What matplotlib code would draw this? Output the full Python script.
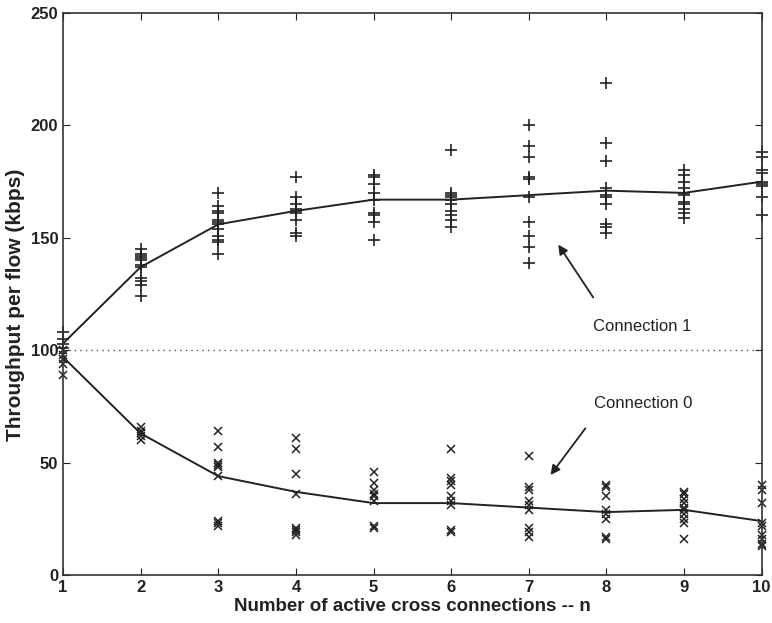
import numpy as np
import matplotlib.pyplot as plt

plt.rcParams['font.family'] = ['Liberation Sans', 'DejaVu Sans']

n = [1, 2, 3, 4, 5, 6, 7, 8, 9, 10]

# mean throughput per flow (kbps)
conn1_mean = [103, 137, 156, 162, 167, 167, 169, 171, 170, 175]
conn0_mean = [97, 63, 44, 37, 32, 32, 30, 28, 29, 24]

# individual runs, connection 1 ('+')
conn1_runs = {
    1: [108, 105, 103, 101],
    2: [145, 143, 142, 141, 140, 138, 137, 132, 131, 129, 124],
    3: [170, 164, 162, 161, 158, 157, 156, 154, 151, 149, 148, 143],
    4: [177, 168, 165, 163, 162, 161, 158, 152, 151],
    5: [178, 177, 174, 170, 167, 161, 160, 157, 149],
    6: [189, 170, 169, 168, 167, 165, 162, 160, 158, 155],
    7: [200, 191, 186, 177, 176, 168, 157, 151, 146, 139],
    8: [219, 192, 184, 172, 169, 168, 165, 156, 155, 152],
    9: [180, 178, 175, 172, 170, 169, 166, 165, 163, 161, 159],
    10: [188, 186, 180, 179, 175, 174, 173, 168, 160],
}

# individual runs, connection 0 ('x')
conn0_runs = {
    1: [100, 98, 96, 94, 89],
    2: [66, 64, 63, 62, 60],
    3: [64, 57, 50, 49, 48, 44, 24, 23, 22],
    4: [61, 56, 45, 36, 21, 20, 19, 18],
    5: [46, 41, 38, 36, 35, 33, 22, 21],
    6: [56, 43, 42, 40, 35, 33, 31, 20, 19],
    7: [53, 39, 38, 33, 31, 29, 21, 19, 17],
    8: [40, 39, 35, 29, 27, 25, 17, 16],
    9: [37, 36, 34, 32, 30, 29, 27, 25, 23, 16],
    10: [40, 38, 32, 23, 22, 18, 16, 14, 13],
}

ink = "#222222"

fig = plt.figure(figsize=(7.72, 6.23), dpi=100)
ax = fig.add_axes([0.0816, 0.077, 0.905, 0.902])

for k, vals in conn1_runs.items():
    ax.plot([k] * len(vals), vals, linestyle="none", marker="+",
            markersize=9, markeredgewidth=1.2, color=ink, clip_on=False)
for k, vals in conn0_runs.items():
    ax.plot([k] * len(vals), vals, linestyle="none", marker="x",
            markersize=5.5, markeredgewidth=1.1, color=ink, clip_on=False)

ax.plot(n, conn1_mean, color=ink, linewidth=1.4)
ax.plot(n, conn0_mean, color=ink, linewidth=1.4)
ax.axhline(100, color="#555555", linestyle=(0, (1, 3)), linewidth=1.0)

# labels and arrows
ax.text(8.46, 110.5, "Connection 1", ha="center", va="center",
        fontsize=12, color=ink)
ax.text(8.48, 76.5, "Connection 0", ha="center", va="center",
        fontsize=12, color=ink)
arrow = dict(arrowstyle="-|>", color=ink, lw=1.3, shrinkA=0, shrinkB=0,
             mutation_scale=14)
ax.annotate("", xy=(7.38, 147), xytext=(7.83, 123.5), arrowprops=arrow)
ax.annotate("", xy=(7.28, 44.5), xytext=(7.73, 65.3), arrowprops=arrow)

ax.set_xlim(1, 10)
ax.set_ylim(0, 250)
ax.set_xticks(n)
ax.set_yticks([0, 50, 100, 150, 200, 250])
ax.tick_params(direction="in", top=True, right=True, length=5,
               labelsize=12, colors=ink)
for lbl in ax.get_xticklabels() + ax.get_yticklabels():
    lbl.set_fontweight("bold")
for sp in ax.spines.values():
    sp.set_linewidth(1.2)
    sp.set_color("#333333")

ax.set_xlabel("Number of active cross connections -- n", fontsize=13.5,
              fontweight="bold", color=ink, labelpad=2)
ax.set_ylabel("Throughput per flow (kbps)", fontsize=15,
              fontweight="bold", color=ink)
ax.yaxis.set_label_coords(-0.055, 0.48)

fig.savefig("out.png", dpi=100)
